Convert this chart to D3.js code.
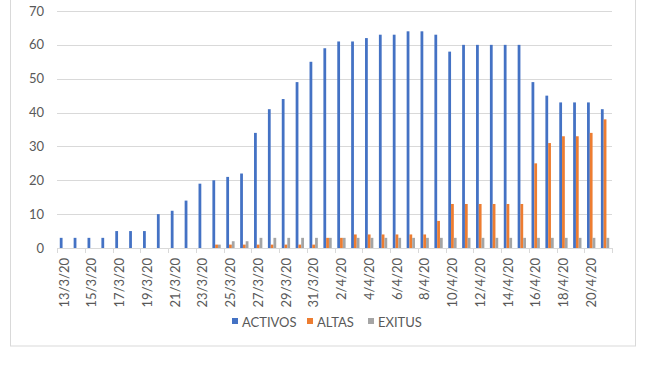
<!DOCTYPE html>
<html><head><meta charset="utf-8">
<script src="https://cdn.jsdelivr.net/npm/d3@7"></script>
<style>body{margin:0;background:#fff}svg{display:block}</style>
</head><body>
<script>
const categories = ["13/3/20","14/3/20","15/3/20","16/3/20","17/3/20","18/3/20","19/3/20","20/3/20","21/3/20","22/3/20",
"23/3/20","24/3/20","25/3/20","26/3/20","27/3/20","28/3/20","29/3/20","30/3/20","31/3/20",
"1/4/20","2/4/20","3/4/20","4/4/20","5/4/20","6/4/20","7/4/20","8/4/20","9/4/20","10/4/20",
"11/4/20","12/4/20","13/4/20","14/4/20","15/4/20","16/4/20","17/4/20","18/4/20","19/4/20","20/4/20","21/4/20"];
const activos = [3,3,3,3,5,5,5,10,11,14,19,20,21,22,34,41,44,49,55,59,61,61,62,63,63,64,64,63,58,60,60,60,60,60,49,45,43,43,43,41];
const altas   = [0,0,0,0,0,0,0,0,0,0,0,1,1,1,1,1,1,1,1,3,3,4,4,4,4,4,4,8,13,13,13,13,13,13,25,31,33,33,34,38];
const exitus  = [0,0,0,0,0,0,0,0,0,0,0,1,2,2,3,3,3,3,3,3,3,3,3,3,3,3,3,3,3,3,3,3,3,3,3,3,3,3,3,3];
const seriesNames = ["ACTIVOS","ALTAS","EXITUS"];
const colors = ["#4472C4","#ED7D31","#A5A5A5"];
const yTicks = [0,10,20,30,40,50,60,70];

(function(){
const W = 650, H = 365;
const svg = d3.select("body").append("svg").attr("width", W).attr("height", H);
svg.append("rect").attr("x", 10.5).attr("y", -10).attr("width", 625).attr("height", 356)
  .attr("fill", "#fff").attr("stroke", "#d9d9d9").attr("stroke-width", 1);

const mLeft = 57, mRight = 612, mTop = 11, mBottom = 248;
const x = d3.scaleBand().domain(categories).range([mLeft, mRight]).padding(0);
const y = d3.scaleLinear().domain([0, 70]).range([mBottom, mTop]);
const bw = x.bandwidth() * 0.2;
const x1 = d3.scaleBand().domain(seriesNames).range([0, bw * 3]);

const font = "Lato, 'Open Sans', sans-serif";
svg.append("g").selectAll("line").data(yTicks.filter(d => d > 0)).join("line")
  .attr("x1", mLeft).attr("x2", mRight).attr("y1", d => Math.round(y(d)) + 0.5).attr("y2", d => Math.round(y(d)) + 0.5)
  .attr("stroke", "#d9d9d9").attr("stroke-width", 1);
svg.append("g").selectAll("text").data(yTicks).join("text")
  .attr("x", 44).attr("y", d => y(d)).attr("dy", "0.35em").attr("text-anchor", "end")
  .attr("font-family", font).attr("font-size", 13).attr("fill", "#595959").text(d => d);

const data = [activos, altas, exitus];
const g = svg.append("g");
categories.forEach((c, i) => {
  const gx = x(c) + (x.bandwidth() - bw * 3) / 2;
  seriesNames.forEach((s, j) => {
    const v = data[j][i];
    g.append("rect").attr("x", gx + x1(s)).attr("width", x1.bandwidth())
      .attr("y", y(v)).attr("height", mBottom - y(v)).attr("fill", colors[j]);
  });
});

const ax = svg.append("g");
ax.append("line").attr("x1", mLeft).attr("x2", mRight).attr("y1", mBottom + 0.5).attr("y2", mBottom + 0.5)
  .attr("stroke", "#d9d9d9");
const tickIdx = d3.range(0, categories.length + 1, 2);
ax.selectAll("line.t").data(tickIdx).join("line").attr("class", "t")
  .attr("x1", i => Math.round(mLeft + i * x.step()) + 0.5).attr("x2", i => Math.round(mLeft + i * x.step()) + 0.5)
  .attr("y1", mBottom).attr("y2", mBottom + 5).attr("stroke", "#d9d9d9");
ax.selectAll("text").data(categories.filter((d, i) => i % 2 === 0)).join("text")
  .attr("transform", d => `translate(${x(d) + x.bandwidth() / 2},258) rotate(-90)`)
  .attr("text-anchor", "end").attr("dy", "0.35em")
  .attr("font-family", font).attr("font-size", 13).attr("fill", "#595959").text(d => d);

const legX = [232, 307, 368];
const lg = svg.append("g");
seriesNames.forEach((s, j) => {
  lg.append("rect").attr("x", legX[j]).attr("y", 318).attr("width", 6).attr("height", 6).attr("fill", colors[j]);
  lg.append("text").attr("x", legX[j] + 10).attr("y", 322).attr("dy", "0.35em")
    .attr("font-family", font).attr("font-size", 13).attr("fill", "#595959").text(s);
});
})();
</script>
</body></html>
